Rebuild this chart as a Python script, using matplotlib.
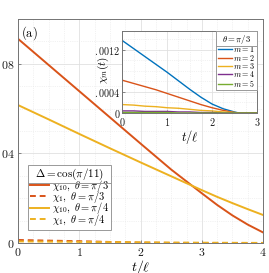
import numpy as np
import matplotlib
matplotlib.use("Agg")
import matplotlib.pyplot as plt
from matplotlib.ticker import MultipleLocator, FuncFormatter
from matplotlib.lines import Line2D

plt.rcParams['mathtext.fontset'] = 'cm'
plt.rcParams['font.family'] = 'serif'
plt.rcParams['font.serif'] = ['DejaVu Serif']

# main panel: chi_10 and chi_1 vs t/l
t_main = [0, 0.5, 1, 1.5, 2, 2.5, 3, 3.25, 3.5, 3.75, 4]
chi10_pi3 = [0.0912, 0.0795, 0.0678, 0.0561, 0.0444, 0.0328, 0.0222, 0.0170, 0.0123, 0.0082, 0.0047]
chi10_pi4 = [0.0616, 0.0552, 0.0487, 0.0423, 0.0360, 0.0298, 0.0236, 0.0206, 0.0178, 0.0151, 0.0125]
chi1_pi3 = [0.00135, 0.00105, 0.0008, 0.00045, 0.00015, 0.00002, 0, 0, 0, 0, 0]
chi1_pi4 = [0.0007, 0.0006, 0.0005, 0.0004, 0.0003, 0.0002, 0.00012, 0.0001, 0.00007, 0.00005, 0.00003]

# inset: chi_m for theta = pi/3
t_in = [0, 0.25, 0.5, 0.75, 1, 1.25, 1.5, 1.75, 2, 2.25, 2.5, 2.6, 3]
chi_m = {
    1: [0.00137, 0.00122, 0.00107, 0.00092, 0.00077, 0.00061, 0.00045, 0.00030, 0.00017, 0.00008, 0.00002, 0, 0],
    2: [0.00062, 0.00056, 0.00050, 0.00044, 0.00037, 0.00030, 0.00023, 0.00016, 0.00010, 0.00005, 0.00001, 0, 0],
    3: [0.00016, 0.00015, 0.00013, 0.00012, 0.00010, 0.00009, 0.00007, 0.00005, 0.00004, 0.00002, 0.00001, 0, 0],
    4: [0.00004, 0.00004, 0.00003, 0.00003, 0.00003, 0.00002, 0.00002, 0.00001, 0.00001, 0, 0, 0, 0],
    5: [0.00001, 0.00001, 0.00001, 0.00001, 0.00001, 0, 0, 0, 0, 0, 0, 0, 0],
}

cols = ['#0072BD', '#D95319', '#EDB120', '#7E2F8E', '#77AC30']
edge = '0.45'


def style_ax(ax, fs):
    for s in ax.spines.values():
        s.set_color(edge)
        s.set_linewidth(0.7)
    ax.tick_params(which='both', direction='in', labelsize=fs,
                   length=2.5, width=0.6)
    ax.tick_params(which='minor', length=0)
    ax.tick_params(axis='both', colors=edge, labelcolor='0.1')
    ax.grid(which='major', color='0.88', lw=0.6, ls='-')
    ax.grid(which='minor', color='0.9', lw=0.5, ls=':')
    ax.set_axisbelow(True)


def sep_line(fig, leg):
    # horizontal rule under the legend title, like MATLAB
    fig.canvas.draw()
    r = fig.canvas.get_renderer()
    lb = leg.get_frame().get_window_extent(r)
    tb = leg.get_title().get_window_extent(r)
    y = tb.y0 - 0.5
    inv = fig.transFigure.inverted()
    (x0, y0), (x1, _) = inv.transform([(lb.x0, y), (lb.x1, y)])
    fig.add_artist(Line2D([x0, x1], [y0, y0], color='0.6', lw=0.7,
                          transform=fig.transFigure, zorder=10))


fig = plt.figure(figsize=(2.69, 2.73), dpi=100)
ax = fig.add_axes([0.067, 0.110, 0.911, 0.820])

ax.plot(t_main, chi10_pi3, color=cols[1], lw=1.4, label=r'$\chi_{10},\ \theta=\pi/3$')
ax.plot(t_main, chi1_pi3, color=cols[1], lw=1.4, ls='--', dashes=(3, 2),
        label=r'$\chi_{1},\ \theta=\pi/3$')
ax.plot(t_main, chi10_pi4, color=cols[2], lw=1.4, label=r'$\chi_{10},\ \theta=\pi/4$')
ax.plot(t_main, chi1_pi4, color=cols[2], lw=1.4, ls='--', dashes=(3, 2),
        label=r'$\chi_{1},\ \theta=\pi/4$')

ax.set_xlim(0, 4)
ax.set_ylim(0, 0.1)
ax.xaxis.set_major_locator(MultipleLocator(1))
ax.xaxis.set_minor_locator(MultipleLocator(0.25))
ax.set_yticks([0, 0.04, 0.08])
ax.yaxis.set_minor_locator(MultipleLocator(0.01))
ax.xaxis.set_major_formatter(FuncFormatter(lambda v, p: r'$%d$' % round(v)))
ax.yaxis.set_major_formatter(FuncFormatter(
    lambda v, p: r'$0$' if v == 0 else r'$%s$' % ('%.2f' % v)[1:]))
style_ax(ax, 8.5)
ax.tick_params(axis='y', pad=2.5)
ax.tick_params(axis='x', pad=2.5)
ax.set_xlabel(r'$t/\ell$', fontsize=10, labelpad=-1)
ax.set_ylabel(r'$\chi_m(t)$', fontsize=10.5)
ax.yaxis.set_label_coords(-0.07, 0.61)
ax.text(0.012, 0.975, r'$\rm(a)$', transform=ax.transAxes, fontsize=9,
        va='top', ha='left')

leg = ax.legend(loc='upper left', bbox_to_anchor=(0.041, 0.348), borderaxespad=0,
                title=r'$\Delta=\cos(\pi/11)$', title_fontsize=8, fontsize=7.5,
                fancybox=False, framealpha=1, edgecolor='0.6', handlelength=1.8,
                handletextpad=0.3, labelspacing=-0.45, borderpad=0.2)
leg.get_frame().set_linewidth(0.7)
leg.set_zorder(3)

# inset
axi = fig.add_axes([0.455, 0.586, 0.500, 0.300])
for m in range(1, 6):
    axi.plot(t_in, chi_m[m], color=cols[m - 1], lw=1.0, label=r'$m=%d$' % m)
axi.set_xlim(0, 3)
axi.set_ylim(0, 0.00155)
axi.xaxis.set_major_locator(MultipleLocator(1))
axi.xaxis.set_minor_locator(MultipleLocator(0.25))
axi.set_yticks([0, 0.0004, 0.0012])
axi.yaxis.set_minor_locator(MultipleLocator(0.0002))
axi.xaxis.set_major_formatter(FuncFormatter(lambda v, p: r'$%d$' % round(v)))
axi.yaxis.set_major_formatter(FuncFormatter(
    lambda v, p: r'$0$' if v == 0 else r'$%s$' % ('%.4f' % v)[1:]))
style_ax(axi, 7.3)
axi.tick_params(axis='y', pad=1.5)
axi.tick_params(axis='x', pad=2)
axi.set_xlabel(r'$t/\ell$', fontsize=9, labelpad=0)
axi.set_ylabel(r'$\chi_m(t)$', fontsize=8)
axi.yaxis.set_label_coords(-0.085, 0.52)

legi = axi.legend(loc='upper right', bbox_to_anchor=(1.0, 1.0), borderaxespad=0,
                  title=r'$\theta=\pi/3$', title_fontsize=6.3, fontsize=5.8,
                  fancybox=False, framealpha=1, edgecolor='0.6', handlelength=1.7,
                  handletextpad=0.2, labelspacing=-0.2, borderpad=0.2)
legi.get_frame().set_linewidth(0.7)

sep_line(fig, leg)
sep_line(fig, legi)

fig.savefig('out.png', dpi=100)
